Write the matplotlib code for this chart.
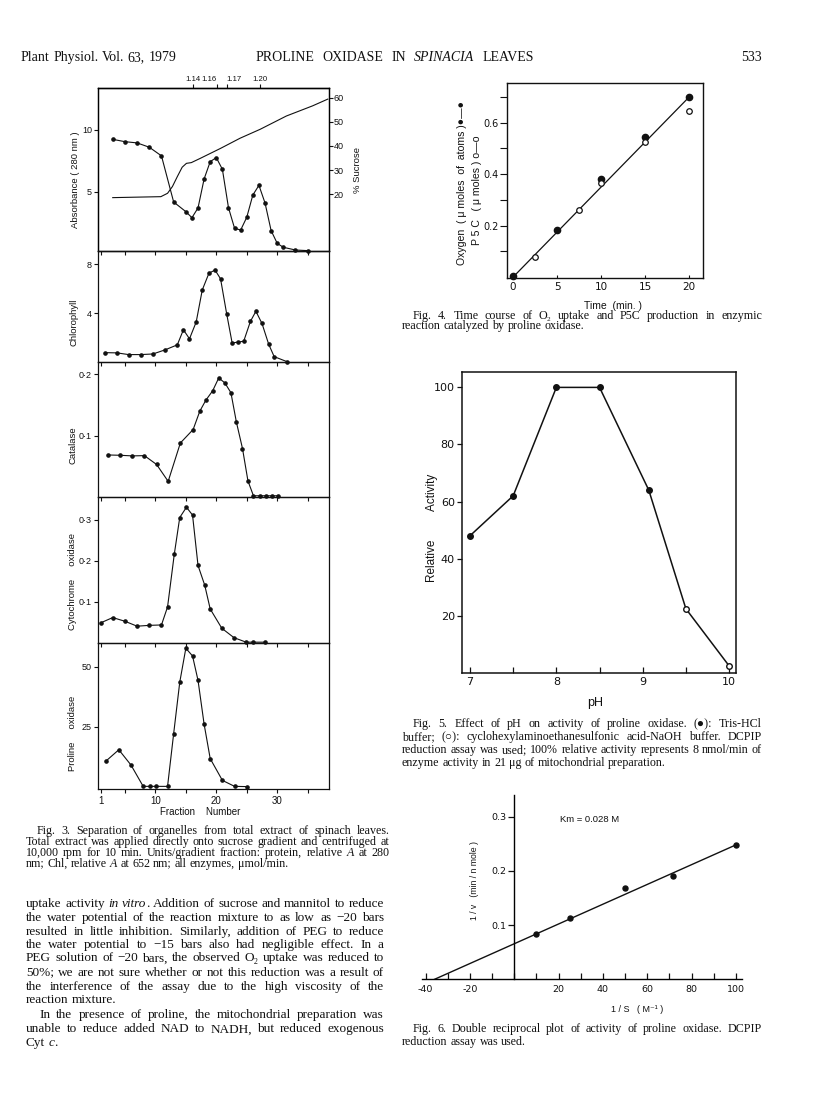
import numpy as np
import matplotlib
matplotlib.use('Agg')
import matplotlib.pyplot as plt

# ---------------- data ----------------
# Fig. 3 (fraction numbers and values per panel)
frac_abs = [3, 5, 7, 9, 11, 13, 15, 16, 17, 18, 19, 20, 21, 22, 23, 24, 25, 26, 27, 28, 29, 30, 31, 33, 35]
abs280 = [9.24, 9.05, 8.95, 8.6, 7.9, 4.16, 3.38, 2.89, 3.68, 6.03, 7.43, 7.76, 6.81, 3.7, 2.03, 1.89,
          2.92, 4.73, 5.51, 4.08, 1.84, 0.81, 0.49, 0.27, 0.22]
frac_suc = [3, 10.9, 12.0, 12.8, 13.6, 14.4, 15.1, 15.9, 17.4, 20.7, 23.9, 27.2, 31.5, 35.8, 38.3]
sucrose = [18.6, 19.0, 20.4, 23.2, 27.3, 31.2, 32.8, 33.1, 34.9, 39.0, 43.2, 46.9, 52.4, 56.6, 59.4]
dens_pos = [16.2, 20.1, 21.7, 27.1]
dens_lab = ['1.14', '1.16', '1.17', '1.20']

frac_chl = [1.7, 3.7, 5.6, 7.6, 9.6, 11.6, 13.6, 14.6, 15.6, 16.7, 17.7, 18.8, 19.8, 20.7, 21.7, 22.6,
            23.5, 24.5, 25.6, 26.5, 27.5, 28.6, 29.5, 31.6]
chlorophyll = [0.74, 0.72, 0.58, 0.58, 0.63, 0.97, 1.38, 2.62, 1.88, 3.26, 5.9, 7.28, 7.53, 6.81, 3.94,
               1.54, 1.6, 1.68, 3.31, 4.14, 3.14, 1.43, 0.41, 0.0]

frac_cat = [2.2, 4.2, 6.2, 8.2, 10.2, 12.1, 14.1, 16.2, 17.3, 18.3, 19.4, 20.4, 21.4, 22.4, 23.3, 24.3,
            25.2, 26.1, 27.1, 28.1, 29.1, 30.2]
catalase = [0.0685, 0.068, 0.067, 0.0674, 0.053, 0.0255, 0.088, 0.110, 0.140, 0.158, 0.173, 0.194,
            0.186, 0.170, 0.122, 0.079, 0.026, 0.002, 0.002, 0.002, 0.002, 0.002]

frac_cyt = [1, 3, 5, 7, 9, 11, 12, 13.1, 14, 15.1, 16.1, 17, 18.1, 19, 20.9, 22.9, 24.9, 26.1, 28]
cytox = [0.049, 0.062, 0.053, 0.041, 0.043, 0.044, 0.088, 0.216, 0.306, 0.331, 0.312, 0.189, 0.141,
         0.083, 0.036, 0.013, 0.002, 0.002, 0.002]

frac_pro = [1.9, 4, 6, 8, 9.1, 10.1, 12, 13, 14, 15, 16.1, 17, 18, 19, 21, 23, 25]
prolox = [10.7, 15.4, 9.0, 0.1, 0.1, 0.1, 0.1, 22.1, 43.6, 57.8, 54.6, 44.4, 26.1, 11.7, 2.6, 0.1, 0.0]

frac_ticks = [1, 5, 10, 15, 20, 25, 30, 35]
frac_labels = ['1', '', '10', '', '20', '', '30', '']

# Fig. 4
o2_time = [0, 5, 10, 15, 20]
o2_val = [0.005, 0.183, 0.38, 0.546, 0.70]
p5c_time = [2.5, 7.5, 10, 15, 20]
p5c_val = [0.08, 0.261, 0.364, 0.525, 0.647]
fit4_time = [0, 20]
fit4_val = [0.0, 0.70]

# Fig. 5
ph = [7, 7.5, 8, 8.5, 9.07, 9.5, 10]
rel_act = [48, 62, 100, 100, 64, 22.4, 2.4]
n_tris = 5  # first points: Tris-HCl (filled); rest: CHES (open)

# Fig. 6
inv_s = [10, 25, 50, 71.4, 100]
inv_v = [0.084, 0.114, 0.168, 0.191, 0.247]
fit6_x = [-36, 100]
fit6_y = [0.0, 0.248]

# ---------------- figure ----------------
W, H = 816, 1100
fig = plt.figure(figsize=(W / 100, H / 100), dpi=100)
R = fig.canvas.get_renderer()

SERIF = ['Liberation Serif', 'DejaVu Serif', 'DejaVu Sans']
SANS = ['Liberation Sans', 'DejaVu Sans']
TICKF = ['DejaVu Sans']
INK = '#111111'


def rect(l, t, r, b):
    return [l / W, 1 - b / H, (r - l) / W, (b - t) / H]


def ftext(x, y, s, **kw):
    return fig.text(x / W, 1 - y / H, s, **kw)


def make_words(line):
    words, cur, buf, ital = [], [], '', False
    for ch in line:
        if ch == '|':
            if buf:
                cur.append((buf, ital))
                buf = ''
            ital = not ital
        elif ch == ' ':
            if buf:
                cur.append((buf, ital))
                buf = ''
            if cur:
                words.append(cur)
                cur = []
        else:
            buf += ch
    if buf:
        cur.append((buf, ital))
    if cur:
        words.append(cur)
    return words


_cache = {}


def seg_w(s, fs, ital, family):
    key = (s, round(fs, 4), ital, tuple(family))
    if key not in _cache:
        t = fig.text(0, 0, s, fontsize=fs, fontstyle='italic' if ital else 'normal', family=family)
        _cache[key] = t.get_window_extent(renderer=R).width
        t.remove()
    return _cache[key]


def natural(line, fs, family):
    words = make_words(line)
    sp = seg_w('x x', fs, False, family) - seg_w('xx', fs, False, family)
    ws = [sum(seg_w(s, fs, it, family) for s, it in w) for w in words]
    return words, ws, sp


def fit_size(specs, family, test=10.0):
    ratios = []
    for line, x0, x1, just in specs:
        if not just:
            continue
        words, ws, sp = natural(line, test, family)
        nat = sum(ws) + sp * (len(words) - 1)
        ratios.append((x1 - x0) / nat)
    return test * min(ratios) * 0.995


def draw_line(line, x0, x1, yc, fs, family, justify=True):
    words, ws, sp = natural(line, fs, family)
    n = len(words)
    gap = (x1 - x0 - sum(ws)) / (n - 1) if (justify and n > 1) else sp
    base = yc + 0.30 * fs * 100 / 72
    x = x0
    for w, wd in zip(words, ws):
        xx = x
        for s, it in w:
            ftext(xx, base, s, fontsize=fs, fontstyle='italic' if it else 'normal',
                  family=family, ha='left', va='baseline', color=INK)
            xx += seg_w(s, fs, it, family)
        x += wd + gap


def draw_block(specs, ys, fs, family):
    for (line, x0, x1, just), y in zip(specs, ys):
        draw_line(line, x0, x1, y, fs, family, justify=just)


# ---------------- running head ----------------
head1 = ('Plant Physiol. Vol. 63, 1979', 21, 177, True)
head2 = ('PROLINE OXIDASE IN |SPINACIA| LEAVES', 256, 534, True)
fs_head = fit_size([head1, head2], SERIF)
draw_line(head1[0], 21, 177, 57, fs_head, SERIF, justify=False)
draw_line(head2[0], 256, 534, 57, fs_head, SERIF, justify=True)
draw_line('533', 741, 770, 57, fs_head, SERIF, justify=False)

# ---------------- Fig. 3 ----------------
L3, R3 = 97.5, 329
XL = (0.5, 38.5)
lw3, ms3 = 0.8, 2.3


def style_panel(ax, yt, ylab, ylim):
    ax.set_facecolor('none')
    ax.set_xlim(XL)
    ax.set_ylim(ylim)
    ax.set_xticks(frac_ticks)
    ax.set_xticklabels(frac_labels)
    ax.set_yticks(yt)
    ax.set_yticklabels(ylab)
    ax.tick_params(direction='out', length=3, width=0.8, labelsize=6.5, pad=1, colors=INK)
    for sp in ax.spines.values():
        sp.set_linewidth(0.9)
        sp.set_color(INK)
    for lab in ax.get_xticklabels() + ax.get_yticklabels():
        lab.set_family(SANS)


ax1 = fig.add_axes(rect(L3, 88, R3, 251))
ax1.plot(frac_abs, abs280, '-o', ms=ms3, lw=lw3, color=INK, clip_on=False)
style_panel(ax1, [5, 10], ['5', '10'], (0.19, 13.4))
ax1.tick_params(axis='x', labelbottom=False)
ax1r = ax1.twinx()
ax1r.plot(frac_suc, sucrose, '-', lw=lw3, color=INK, clip_on=False)
ax1r.set_xlim(XL)
ax1r.set_ylim(-3.5, 64)
ax1r.set_yticks([20, 30, 40, 50, 60])
ax1r.tick_params(direction='out', length=3, width=0.8, labelsize=6.5, pad=0.5, colors=INK)
for lab in ax1r.get_yticklabels():
    lab.set_family(SANS)
for sp in ax1r.spines.values():
    sp.set_linewidth(0.9)
sec = ax1.secondary_xaxis('top')
sec.set_xticks(dens_pos)
sec.set_xticklabels(dens_lab)
sec.tick_params(direction='out', length=3, width=0.8, labelsize=5.6, pad=0.5, colors=INK)
dens_ha = ['center', 'right', 'left', 'center']
for lab, ha in zip(sec.get_xticklabels(), dens_ha):
    lab.set_family(SANS)
    lab.set_ha(ha)
sec.spines['top'].set_linewidth(0.9)

ax2 = fig.add_axes(rect(L3, 251, R3, 362))
ax2.plot(frac_chl, chlorophyll, '-o', ms=ms3, lw=lw3, color=INK, clip_on=False)
style_panel(ax2, [4, 8], ['4', '8'], (-0.03, 9.1))
ax2.tick_params(axis='x', labelbottom=False)

ax3 = fig.add_axes(rect(L3, 362, R3, 497))
ax3.plot(frac_cat, catalase, '-o', ms=ms3, lw=lw3, color=INK, clip_on=False)
style_panel(ax3, [0.1, 0.2], ['0·1', '0·2'], (0.0, 0.22))
ax3.tick_params(axis='x', labelbottom=False)

ax4c = fig.add_axes(rect(L3, 497, R3, 643))
ax4c.plot(frac_cyt, cytox, '-o', ms=ms3, lw=lw3, color=INK, clip_on=False)
style_panel(ax4c, [0.1, 0.2, 0.3], ['0·1', '0·2', '0·3'], (0.0, 0.356))
ax4c.tick_params(axis='x', labelbottom=False)

ax5p = fig.add_axes(rect(L3, 643, R3, 789))
ax5p.plot(frac_pro, prolox, '-o', ms=ms3, lw=lw3, color=INK, clip_on=False)
style_panel(ax5p, [25, 50], ['25', '50'], (-1.0, 60.0))
ax5p.tick_params(axis='x', labelsize=7, pad=2)

lab_kw = dict(family=SANS, fontsize=6.8, rotation=90, ha='center', va='center', color=INK)
ftext(75, 180, 'Absorbance ( 280 nm )', **lab_kw)
ftext(357, 170, '% Sucrose', **lab_kw)
ftext(74, 322, 'Chlorophyll', **lab_kw)
ftext(72.5, 445, 'Catalase', **lab_kw)
ftext(72.5, 582, 'Cytochrome     oxidase', **lab_kw)
ftext(72.5, 733, 'Proline     oxidase', **lab_kw)
ftext(200, 812, 'Fraction    Number', family=SANS, fontsize=7, ha='center', va='center', color=INK)

# ---------------- Fig. 4 ----------------
axf4 = fig.add_axes(rect(507.3, 83.3, 703.3, 278.3))
axf4.set_facecolor('none')
axf4.plot(fit4_time, fit4_val, '-', lw=0.9, color=INK)
axf4.plot(o2_time, o2_val, 'o', ms=4.5, color=INK, clip_on=False)
axf4.plot(p5c_time, p5c_val, 'o', ms=4, mfc='white', mec=INK, mew=0.9, clip_on=False)
axf4.set_xlim(-0.65, 21.6)
axf4.set_ylim(-0.0045, 0.753)
axf4.set_xticks([0, 5, 10, 15, 20])
axf4.set_yticks([0.1, 0.2, 0.3, 0.4, 0.5, 0.6, 0.7])
axf4.set_yticklabels(['', '0.2', '', '0.4', '', '0.6', ''])
axf4.tick_params(axis='y', direction='out', length=5, width=0.8, labelsize=7, pad=1.5, colors=INK)
axf4.tick_params(axis='x', direction='in', length=2, width=0.8, labelsize=7.5, pad=3, colors=INK)
for lab in axf4.get_xticklabels() + axf4.get_yticklabels():
    lab.set_family(TICKF)
for sp in axf4.spines.values():
    sp.set_linewidth(1.0)
    sp.set_color(INK)
ftext(462, 183, 'Oxygen  ( μ moles  of  atoms )●—●', family=SANS, fontsize=7.6, rotation=90,
      ha='center', va='center', color=INK)
ftext(477.5, 190, 'P 5 C   ( μ moles ) o—o', family=SANS, fontsize=7.6, rotation=90,
      ha='center', va='center', color=INK)
ftext(613, 306.5, 'Time  (min. )', family=SANS, fontsize=7.5, ha='center', va='center', color=INK)

# ---------------- Fig. 5 ----------------
axf5 = fig.add_axes(rect(461.7, 371.7, 736, 672.7))
axf5.set_facecolor('none')
axf5.plot(ph, rel_act, '-', lw=1.1, color=INK)
axf5.plot(ph[:n_tris], rel_act[:n_tris], 'o', ms=4, color=INK, clip_on=False)
axf5.plot(ph[n_tris:], rel_act[n_tris:], 'o', ms=4, mfc='white', mec=INK, mew=1.0, clip_on=False)
axf5.set_xlim(6.904, 10.08)
axf5.set_ylim(0, 105.5)
axf5.set_xticks([7, 7.5, 8, 8.5, 9, 9.5, 10])
axf5.set_xticklabels(['7', '', '8', '', '9', '', '10'])
axf5.set_yticks([20, 40, 60, 80, 100])
axf5.tick_params(axis='x', direction='in', length=4, width=0.9, labelsize=8, pad=3, colors=INK)
axf5.tick_params(axis='y', direction='out', length=3.5, width=0.9, labelsize=8, pad=1.5, colors=INK)
for lab in axf5.get_xticklabels() + axf5.get_yticklabels():
    lab.set_family(TICKF)
for sp in axf5.spines.values():
    sp.set_linewidth(1.1)
    sp.set_color(INK)
ftext(432, 528, 'Relative         Activity', family=SANS, fontsize=8.5, rotation=90,
      ha='center', va='center', color=INK)
ftext(595, 703, 'pH', family=SANS, fontsize=9, ha='center', va='center', color=INK)

# ---------------- Fig. 6 ----------------
axf6 = fig.add_axes(rect(421.7, 795, 741.7, 979.3))
axf6.set_facecolor('none')
axf6.plot(fit6_x, fit6_y, '-', lw=1.0, color=INK)
axf6.plot(inv_s, inv_v, 'o', ms=3.6, color=INK, clip_on=False)
axf6.set_xlim(-41.8, 102.6)
axf6.set_ylim(0, 0.34)
axf6.spines['left'].set_position(('data', 0))
axf6.spines['top'].set_visible(False)
axf6.spines['right'].set_visible(False)
axf6.spines['left'].set_linewidth(1.0)
axf6.spines['bottom'].set_linewidth(1.0)
xt6 = list(range(-40, 101, 10))
axf6.set_xticks(xt6)
axf6.set_xticklabels([str(v) if v in (-40, -20, 20, 40, 60, 80, 100) else '' for v in xt6])
axf6.set_yticks([0.1, 0.2, 0.3])
axf6.set_yticklabels(['0.1', '0.2', '0.3'])
axf6.tick_params(axis='x', direction='in', length=4, width=0.9, labelsize=6.8, pad=4, colors=INK)
axf6.tick_params(axis='y', direction='out', length=4, width=0.9, labelsize=6.8, pad=1.5, colors=INK)
for lab in axf6.get_xticklabels() + axf6.get_yticklabels():
    lab.set_family(TICKF)
ftext(560, 819, 'Km = 0.028 M', family=SANS, fontsize=6.8, ha='left', va='center', color=INK)
ftext(474, 880, '1 / v   (min / n mole )', family=SANS, fontsize=6.2, rotation=90,
      ha='center', va='center', color=INK)
ftext(637, 1010, '1 / S   ( M⁻¹ )', family=SANS, fontsize=6.5, ha='center', va='center', color=INK)

# ---------------- captions & body text ----------------
cap3 = [
    ('Fig. 3. Separation of organelles from total extract of spinach leaves.', 36.7, 389.3, True),
    ('Total extract was applied directly onto sucrose gradient and centrifuged at', 26, 389.3, True),
    ('10,000 rpm for 10 min. Units/gradient fraction: protein, relative |A| at 280', 26, 389.3, True),
    ('nm; Chl, relative |A| at 652 nm; all enzymes, μmol/min.', 26, 389.3, False),
]
cap3_y = [830, 841, 852, 863]
cap4 = [
    ('Fig. 4. Time course of O₂ uptake and P5C production in enzymic', 413, 762, True),
    ('reaction catalyzed by proline oxidase.', 402, 762, False),
]
cap4_y = [315, 325.5]
cap5 = [
    ('Fig. 5. Effect of pH on activity of proline oxidase. (●): Tris-HCl', 413, 762, True),
    ('buffer; (○): cyclohexylaminoethanesulfonic acid-NaOH buffer. DCPIP', 402, 762, True),
    ('reduction assay was used; 100% relative activity represents 8 nmol/min of', 402, 762, True),
    ('enzyme activity in 21 μg of mitochondrial preparation.', 402, 762, False),
]
cap5_y = [723.5, 736.5, 749.5, 762.5]
cap6 = [
    ('Fig. 6. Double reciprocal plot of activity of proline oxidase. DCPIP', 413, 762, True),
    ('reduction assay was used.', 402, 762, False),
]
cap6_y = [1028.3, 1041.7]

fs_cap = fit_size(cap3 + cap4 + cap5 + cap6, SERIF)
draw_block(cap3, cap3_y, fs_cap, SERIF)
draw_block(cap4, cap4_y, fs_cap, SERIF)
draw_block(cap5, cap5_y, fs_cap, SERIF)
draw_block(cap6, cap6_y, fs_cap, SERIF)

body = [
    ('uptake activity |in vitro|. Addition of sucrose and mannitol to reduce', 26, 384, True),
    ('the water potential of the reaction mixture to as low as −20 bars', 26, 384, True),
    ('resulted in little inhibition. Similarly, addition of PEG to reduce', 26, 384, True),
    ('the water potential to −15 bars also had negligible effect. In a', 26, 384, True),
    ('PEG solution of −20 bars, the observed O₂ uptake was reduced to', 26, 384, True),
    ('50%; we are not sure whether or not this reduction was a result of', 26, 384, True),
    ('the interference of the assay due to the high viscosity of the', 26, 384, True),
    ('reaction mixture.', 26, 384, False),
    ('In the presence of proline, the mitochondrial preparation was', 39.3, 384, True),
    ('unable to reduce added NAD to NADH, but reduced exogenous', 26, 384, True),
    ('Cyt |c|.', 26, 384, False),
]
body_y = [903.3, 916.7, 930.7, 944, 957.3, 971.7, 986, 999.3, 1014, 1028.3, 1041.7]
fs_body = fit_size(body, SERIF)
draw_block(body, body_y, fs_body, SERIF)

fig.savefig('out.png', dpi=100)
